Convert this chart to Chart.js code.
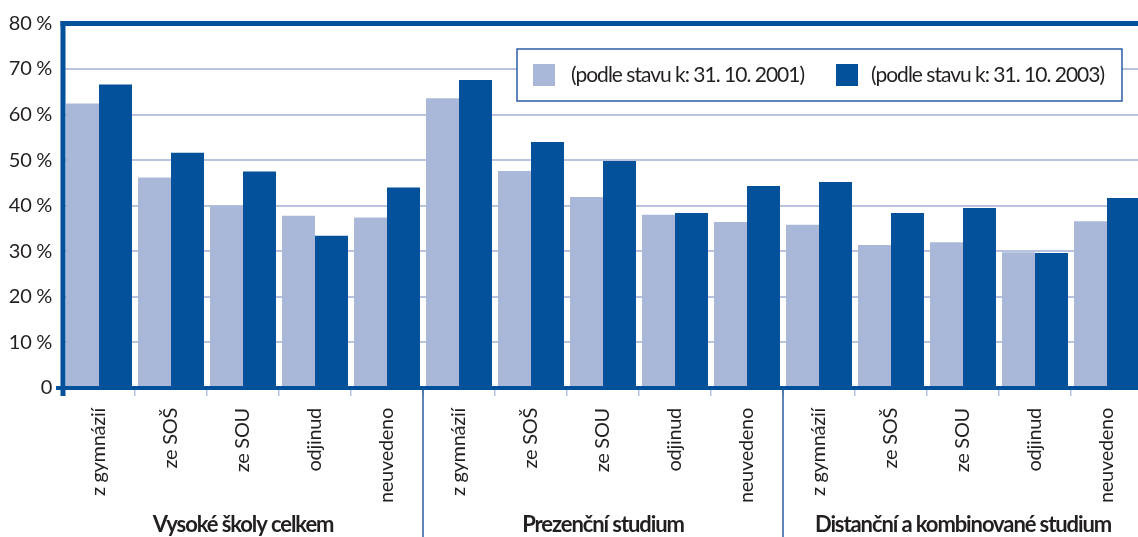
<!DOCTYPE html>
<html>
<head>
<meta charset="utf-8">
<script src="https://cdn.jsdelivr.net/npm/chart.js@4/dist/chart.umd.min.js"></script>
<style>
  html, body { margin: 0; padding: 0; overflow: hidden; background: #fff; }
  #wrap { position: relative; width: 1143px; height: 537px; }
</style>
</head>
<body>
<div id="wrap"><canvas id="c"></canvas></div>
<script>
const categories = [
  'z gymnázií', 'ze SOŠ', 'ze SOU', 'odjinud', 'neuvedeno',
  'z gymnázií', 'ze SOŠ', 'ze SOU', 'odjinud', 'neuvedeno',
  'z gymnázií', 'ze SOŠ', 'ze SOU', 'odjinud', 'neuvedeno'
];
const groupLabels = ['Vysoké školy celkem', 'Prezenční studium', 'Distanční a kombinované studium'];
const groupSize = 5;
const seriesNames = ['(podle stavu k: 31. 10. 2001)', '(podle stavu k: 31. 10. 2003)'];
const values2001 = [62.4, 46.2, 40.0, 37.8, 37.4, 63.6, 47.6, 41.9, 38.0, 36.4, 35.8, 31.4, 32.0, 29.8, 36.6];
const values2003 = [66.6, 51.6, 47.5, 33.4, 44.0, 67.6, 54.0, 49.8, 38.4, 44.3, 45.2, 38.4, 39.5, 29.6, 41.7];
const yMin = 0, yMax = 80, yStep = 10;

const LIGHT = '#A9B8D9', DARK = '#03519B', GRID = '#B8C3DF', TEXT = '#231F20', LINE = '#2B5DA6';
const FONT = 'Lato, "Liberation Sans", sans-serif';

const decor = {
  id: 'decor',
  beforeDraw(chart) { chart.ctx.letterSpacing = '-0.3px'; },
  afterDatasetsDraw(chart) {
    // x tick labels (scale z = 1) are drawn after this hook: tighten them
    chart.ctx.letterSpacing = '-0.7px';
  },
  afterDraw(chart) {
    const ctx = chart.ctx, a = chart.chartArea, xs = chart.scales.x;
    ctx.save();
    ctx.letterSpacing = '0px';
    // separators between groups
    ctx.strokeStyle = LINE; ctx.lineWidth = 1.5;
    for (let g = 1; g < groupLabels.length; g++) {
      const x = (xs.getPixelForValue(g * groupSize - 1) + xs.getPixelForValue(g * groupSize)) / 2;
      ctx.beginPath(); ctx.moveTo(x, a.bottom); ctx.lineTo(x, chart.height); ctx.stroke();
    }
    // axes
    ctx.strokeStyle = DARK;
    ctx.lineWidth = 4;
    ctx.beginPath(); ctx.moveTo(a.left - 7, a.bottom); ctx.lineTo(chart.width, a.bottom); ctx.stroke();
    ctx.lineWidth = 5;
    ctx.beginPath(); ctx.moveTo(a.left, a.top - 2.5); ctx.lineTo(a.left, a.bottom + 8); ctx.stroke();
    ctx.beginPath(); ctx.moveTo(a.left - 2.5, a.top); ctx.lineTo(chart.width, a.top); ctx.stroke();
    // group labels
    ctx.fillStyle = TEXT;
    ctx.font = 'bold 22px ' + FONT;
    ctx.letterSpacing = '-1.1px';
    ctx.textAlign = 'center'; ctx.textBaseline = 'alphabetic';
    groupLabels.forEach((lbl, g) => {
      const x0 = xs.getPixelForValue(g * groupSize), x1 = xs.getPixelForValue(g * groupSize + groupSize - 1);
      ctx.fillText(lbl, (x0 + x1) / 2, 532);
    });
    // legend
    ctx.letterSpacing = '0px';
    const bx = 517, by = 49, bw = 605, bh = 52;
    ctx.fillStyle = '#fff';
    ctx.fillRect(bx, by, bw, bh);
    ctx.strokeStyle = LINE; ctx.lineWidth = 1.5;
    ctx.strokeRect(bx, by, bw, bh);
    ctx.font = '21px ' + FONT;
    ctx.letterSpacing = '-1px';
    ctx.textAlign = 'left'; ctx.textBaseline = 'middle';
    const items = [{sx: 533, tx: 571}, {sx: 836, tx: 871}];
    chart.data.datasets.forEach((ds, i) => {
      ctx.fillStyle = ds.backgroundColor;
      ctx.fillRect(items[i].sx, 64, 22, 22);
      ctx.fillStyle = TEXT;
      ctx.fillText(ds.label, items[i].tx, 75);
    });
    ctx.restore();
  }
};

new Chart(document.getElementById('c'), {
  type: 'bar',
  data: {
    labels: categories,
    datasets: [
      { label: seriesNames[0], data: values2001, backgroundColor: LIGHT, borderWidth: 0 },
      { label: seriesNames[1], data: values2003, backgroundColor: DARK, borderWidth: 0 }
    ]
  },
  options: {
    responsive: true,
    maintainAspectRatio: false,
    animation: false,
    events: [],
    categoryPercentage: 0.9167,
    barPercentage: 1.0,
    layout: { padding: { top: 23.4, left: 0, right: 0, bottom: 0 } },
    plugins: { legend: { display: false }, tooltip: { enabled: false } },
    scales: {
      x: {
        z: 1,
        offset: true,
        border: { display: false },
        grid: { offset: true, drawOnChartArea: false, drawTicks: true, tickLength: 8, color: GRID, lineWidth: 1.5 },
        ticks: { autoSkip: false, minRotation: 90, maxRotation: 90, padding: 12, color: TEXT, font: { family: FONT, size: 20 } },
        afterFit(s) { s.height = 149; }
      },
      y: {
        z: 0,
        min: yMin, max: yMax,
        border: { display: false },
        grid: { color: GRID, lineWidth: 2, drawTicks: false },
        ticks: {
          stepSize: yStep, padding: 11, color: TEXT, font: { family: FONT, size: 20 },
          callback: v => v === 0 ? '0' : v + ' %'
        },
        afterFit(s) { s.width = 63; }
      }
    }
  },
  plugins: [decor]
});
</script>
</body>
</html>
